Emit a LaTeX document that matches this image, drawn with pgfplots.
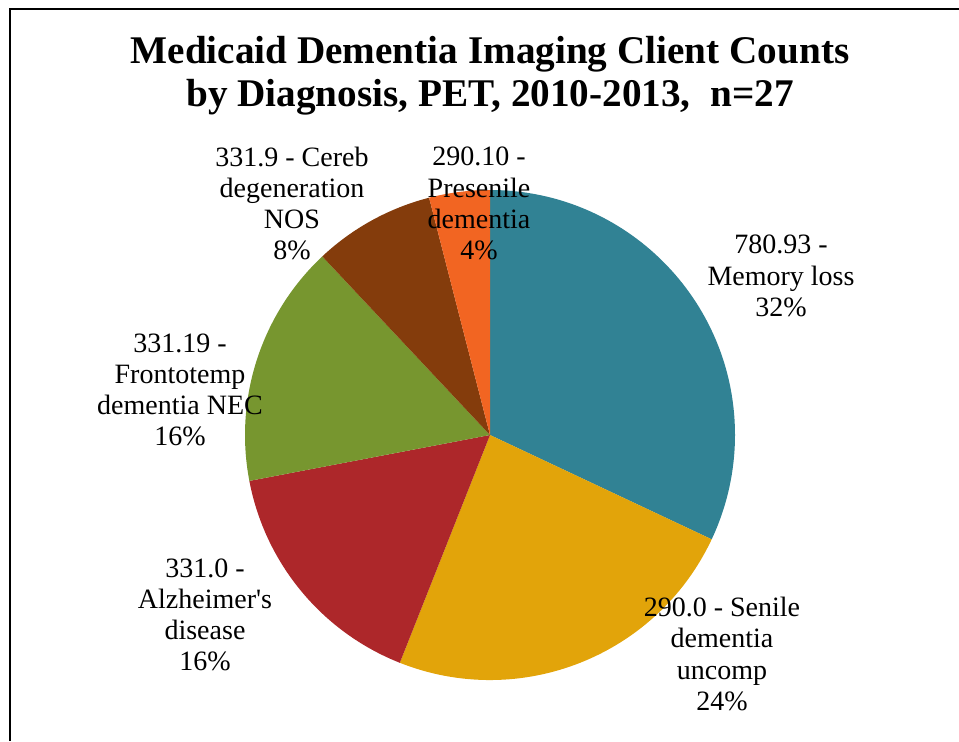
\documentclass[border=0pt]{standalone}
\usepackage{pgfplots}
\usepackage{pgfplotstable}
\pgfplotsset{compat=1.18}
\usepackage{fontspec}
\setmainfont{Liberation Serif}[Ligatures=TeXOff]

\definecolor{s0}{RGB}{49,130,148}  % memory loss
\definecolor{s1}{RGB}{226,164,10}  % senile
\definecolor{s2}{RGB}{173,39,42}   % alzheimer
\definecolor{s3}{RGB}{119,150,47}  % frontotemp
\definecolor{s4}{RGB}{132,60,12}   % cereb
\definecolor{s5}{RGB}{242,101,34}  % presenile

% client counts (percentages 32/24/16/16/8/4)
\pgfplotstableread{
slice count
0 8
1 6
2 4
3 4
4 2
5 1
}\pietable

\tikzset{
  slicelbl/.style={align=center, inner sep=0pt, font=\fontsize{14}{15.6}\selectfont},
}

\begin{document}
\begin{tikzpicture}
\begin{axis}[
  at={(0,0)}, anchor=south west,
  x=0.5pt, y=0.5pt,
  xmin=0, xmax=959, ymin=0, ymax=741,
  hide axis, clip=false,
]
%% total
\def\total{0}
\pgfplotsforeachungrouped \i in {0,...,5}{%
  \pgfplotstablegetelem{\i}{count}\of\pietable
  \pgfmathsetmacro\total{\total+\pgfplotsretval}%
}
%% wedges, clockwise from 12 o'clock
\def\startang{90}
\pgfplotsforeachungrouped \i in {0,...,5}{%
  \pgfplotstablegetelem{\i}{count}\of\pietable
  \pgfmathsetmacro\endang{\startang-360*\pgfplotsretval/\total}%
  \edef\temp{\noexpand\fill[s\i] (axis cs:490,306) -- ++(\startang:122.5pt)
    arc[start angle=\startang, end angle=\endang, radius=122.5pt] -- cycle;}%
  \temp
  \let\startang\endang
}
%% frame
\draw[line width=1pt] (axis cs:10,0) -- (axis cs:10,731.5) -- (axis cs:959,731.5);
%% title
\node[align=center, font=\bfseries\fontsize{19.6}{21.5}\selectfont] at (axis cs:490,665)
  {Medicaid Dementia Imaging Client Counts\\by Diagnosis, PET, 2010-2013,\ \ n=27};
%% slice labels
\node[slicelbl] at (axis cs:781,465) {780.93 -\\Memory loss\\32\%};
\node[slicelbl] at (axis cs:722,87) {290.0 - Senile\\dementia\\uncomp\\24\%};
\node[slicelbl] at (axis cs:205,126) {331.0 -\\Alzheimer's\\disease\\16\%};
\node[slicelbl] at (axis cs:180,351) {331.19 -\\Frontotemp\\dementia NEC\\16\%};
\node[slicelbl] at (axis cs:292,537.5) {331.9 - Cereb\\degeneration\\NOS\\8\%};
\node[slicelbl] at (axis cs:479,537.5) {290.10 -\\Presenile\\dementia\\4\%};
\end{axis}
\pgfresetboundingbox
\path[use as bounding box] (0,0) rectangle (479.5pt,370.5pt);
\end{tikzpicture}
\end{document}
